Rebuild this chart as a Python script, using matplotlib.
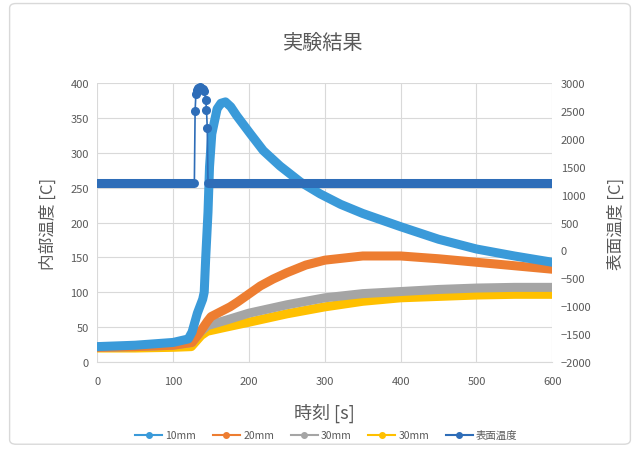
import matplotlib
matplotlib.use("Agg")
import matplotlib.pyplot as plt
from matplotlib.patches import FancyBboxPatch

plt.rcParams["font.family"] = ["Noto Sans CJK JP", "DejaVu Sans"]

# time [s] and internal temperatures [C]
t_10 = [0, 50, 100, 120, 125, 132, 139, 141, 143, 146, 148, 151, 158, 163, 169, 176, 184,
        202, 219, 241, 268, 294, 321, 350, 400, 450, 500, 550, 600]
v_10 = [22, 24, 28, 33, 43, 70, 90, 100, 150, 215, 280, 327, 363, 371, 373, 366, 353,
        327, 303, 281, 258, 241, 226, 213, 194, 176, 162, 152, 143]

t_20 = [0, 50, 100, 125, 135, 145, 150, 175, 185, 215, 232, 250, 275, 300, 350, 400,
        450, 500, 550, 600]
v_20 = [21, 22, 24, 28, 42, 58, 65, 79, 86, 109, 119, 128, 139, 146, 152, 152,
        148, 143, 138, 133]

t_30g = [0, 50, 100, 125, 135, 145, 170, 200, 250, 300, 350, 400, 450, 500, 550, 600]
v_30g = [21, 22, 24, 28, 42, 52, 60, 70, 82, 92, 98, 101, 104, 106, 107, 107]

t_30y = [0, 50, 100, 124, 137, 145, 170, 200, 250, 300, 350, 400, 450, 500, 550, 600]
v_30y = [20, 20, 21, 22, 38, 44, 50, 57, 69, 79, 87, 92, 94, 96, 97, 97]

# surface temperature [C] (right axis)
t_surf = [0, 128, 129, 130, 131, 133, 135, 137, 139, 141, 143, 144, 145, 146, 600]
v_surf = [1200, 1200, 2500, 2800, 2880, 2920, 2930, 2920, 2900, 2850, 2700, 2520, 2200,
          1200, 1200]

c10, c20, c30g, c30y, csurf = "#3A9AD9", "#ED7D31", "#A5A5A5", "#FFC000", "#2E6DB8"
txt = "#595959"

fig = plt.figure(figsize=(6.4, 4.52), dpi=100)
fig.patches.append(FancyBboxPatch((0.015, 0.015), 0.97, 0.975, boxstyle="round,pad=0,rounding_size=0.01",
                                  transform=fig.transFigure, facecolor="white", edgecolor="#D9D9D9",
                                  linewidth=1.0, zorder=-10))

ax = fig.add_axes([0.152, 0.197, 0.711, 0.617])
ax2 = ax.twinx()
ax.patch.set_alpha(0)
ax2.patch.set_alpha(0)

lw = 6.5
ax.plot(t_30y, v_30y, color=c30y, lw=lw, solid_capstyle="round", solid_joinstyle="round", zorder=2)
ax.plot(t_30g, v_30g, color=c30g, lw=lw, solid_capstyle="round", solid_joinstyle="round", zorder=3)
ax.plot(t_20, v_20, color=c20, lw=lw, solid_capstyle="round", solid_joinstyle="round", zorder=4)
ax.plot(t_10, v_10, color=c10, lw=lw, solid_capstyle="round", solid_joinstyle="round", zorder=5)

ax2.plot(t_surf, v_surf, color=csurf, lw=1.2, zorder=6)
ax2.plot(t_surf[:2], v_surf[:2], color=csurf, lw=lw, solid_capstyle="round")
ax2.plot(t_surf[-2:], v_surf[-2:], color=csurf, lw=lw, solid_capstyle="round")
ax2.plot(t_surf[2:13], v_surf[2:13], "o", color=csurf, ms=5.5)

ax.set_xlim(0, 600)
ax.set_ylim(0, 400)
ax2.set_ylim(-2000, 3000)
ax.set_xticks(range(0, 601, 100))
ax.set_yticks(range(0, 401, 50))
ax2.set_yticks(range(-2000, 3001, 500))

ax.grid(True, color="#D9D9D9", lw=0.8)
ax.set_axisbelow(True)

for a in (ax, ax2):
    for s in a.spines.values():
        s.set_visible(False)
    a.tick_params(colors=txt, labelsize=8, length=0, pad=6)
ax.tick_params(axis="x", pad=10)
ax.spines["bottom"].set_visible(True)
ax.spines["bottom"].set_color("#D9D9D9")

ax.set_xlabel("時刻 [s]", fontsize=13, color=txt, labelpad=12)
ax.set_ylabel("内部温度 [C]", fontsize=12, color=txt, labelpad=10)
ax2.set_ylabel("表面温度 [C]", fontsize=12, color=txt, labelpad=12)
fig.text(0.505, 0.905, "実験結果", ha="center", va="center", fontsize=14.5, color=txt)

handles = [
    plt.Line2D([0], [0], color=c10, lw=1.5, marker="o", ms=4, label="10mm"),
    plt.Line2D([0], [0], color=c20, lw=1.5, marker="o", ms=4, label="20mm"),
    plt.Line2D([0], [0], color=c30g, lw=1.5, marker="o", ms=4, label="30mm"),
    plt.Line2D([0], [0], color=c30y, lw=1.5, marker="o", ms=4, label="30mm"),
    plt.Line2D([0], [0], color=csurf, lw=1.5, marker="o", ms=4, label="表面温度"),
]
fig.legend(handles=handles, loc="center", bbox_to_anchor=(0.51, 0.035), ncol=5, frameon=False,
           fontsize=7.5, labelcolor=txt, handlelength=2.6, columnspacing=1.6, handletextpad=0.3)

fig.savefig("out.png", dpi=100)
